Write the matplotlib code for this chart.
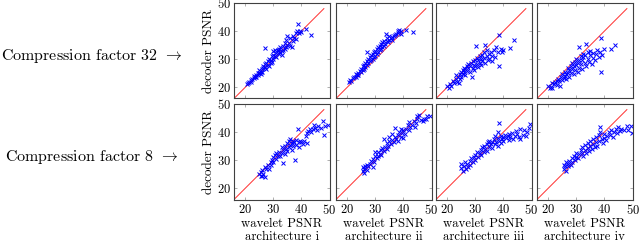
import matplotlib
matplotlib.use('Agg')
import matplotlib.pyplot as plt
import numpy as np

plt.rcParams['font.family'] = 'cmr10'
plt.rcParams['mathtext.fontset'] = 'cm'
plt.rcParams['axes.formatter.use_mathtext'] = True

# (wavelet PSNR, decoder PSNR)
cf32_arch_i = [(20.5,21.2),(21,21.5),(21.5,22),(22,21.8),(22,22.6),(22.5,23),(23,23.2),(23,24.1),(23.5,23.8),
    (24,24.5),(24,23.6),(24.5,25.2),(24.5,24.3),(25,25),(25,26.1),(25.5,25.6),(25.5,24.8),(26,26.4),(26,25.5),
    (26.5,26.8),(26.5,27.6),(27,27.2),(27,28.3),(27.2,33.9),(27.5,26.6),(27.5,28.8),(28,28),(28,29.3),(28.5,27.4),
    (28.5,30.1),(29,28.6),(29,29.8),(29.5,31),(29.5,28.9),(30,30.2),(30,31.6),(30,32.9),(30.5,31.2),(30.5,33.4),
    (31,32.1),(31,30.6),(31.5,32.8),(31.5,33.2),(32,31.8),(32,33.6),(32.5,32.4),(32.5,34.2),(33,33),(33,31.5),
    (33.5,34.6),(33.5,33.2),(34,35.6),(34,33.8),(34.5,36.8),(34.5,34.4),(35,35),(35,38.2),(35.5,35.8),(36,37.4),
    (36,34.6),(36.5,34.5),(37,36.6),(37,38.2),(37.5,37.6),(38,39.4),(38,37.2),(38.5,40.2),(38.7,42.5),(39,39.4),
    (39.5,40),(40,39.6),(41.5,40.6),(43.5,38.5)]

cf32_arch_ii = [(20.6,21.8),(21,22.6),(21.5,22.2),(22,23.2),(22.5,23.8),(23,23.5),(23,24.6),(23.5,24.2),(24,25.1),
    (24,24.4),(24.5,25.8),(25,25.3),(25,26.6),(25.5,26.1),(25.5,27.5),(26,26.6),(26,27.9),(26.5,27.2),(26.5,28.6),
    (27,28),(27,29.4),(27.2,32.7),(27.5,28.6),(27.5,30.1),(28,29.2),(28,30.6),(28.5,29.8),(28.5,31.4),(29,30.2),
    (29,31.9),(29.5,30.8),(29.5,32.4),(30,31.3),(30,33),(30.5,32),(30.5,33.6),(31,32.5),(31,34.2),(31.5,33.2),
    (31.5,34.8),(32,33.6),(32,35.3),(32.5,34.2),(32.5,36),(33,34.8),(33,36.6),(33.5,35.4),(33.8,38.9),(34,36.4),
    (34,37.6),(34.5,36.2),(35,37),(35,38.2),(35.5,37.4),(36,37.8),(36,36.8),(36.5,38.2),(37,38.6),(37.5,39),
    (38,39.9),(38,39.2),(38.5,40.3),(39.2,40.2),(39,39),(41,40.5),(43.4,39.6)]

cf32_arch_iii = [(20,20.4),(20.5,19.7),(21,21.2),(21.5,20.6),(22,22.1),(22.5,21.4),(23,22.8),(23,24.4),(23.5,22),
    (24,23.6),(24.1,21.4),(24.5,24.8),(24.5,22.9),(25,25.4),(25,23.8),(25.5,24.6),(25.5,26.2),(26,25.4),(26,27),
    (26.5,24.2),(26.5,26.6),(27,27.4),(27,25.8),(27.5,26.8),(27.5,28.2),(28,27.4),(28,25.6),(28.5,28.6),(28.9,23.8),
    (29,27),(29,29.2),(29.5,28),(29.5,26.2),(30,29.6),(30,27.6),(30.4,34.8),(30.5,28.4),(30.5,30.4),(31,27.2),
    (31,29.8),(31.5,28.6),(31.5,31.2),(32,30),(32,27.8),(32.5,31.6),(32.5,29.2),(33,30.4),(33,32.6),(33.4,35.1),
    (33.5,28.8),(34,31.2),(34,33.4),(34.5,29.8),(35,31.8),(35,30.2),(35.5,32.6),(36,29.4),(36,31),(36.5,33.2),
    (37,30.6),(37.5,34.2),(38,32.6),(38.6,27.4),(38.6,38.5),(39,33.8),(39.5,32.4),(40,33.2),(42.2,33.9),(43.6,36.9)]

cf32_arch_iv = [(20,20.6),(20.5,19.6),(21,20.2),(21.2,19.6),(21.5,21.4),(22,21),(22.5,21.8),(23,22.4),(23,20.8),
    (23.5,23),(24,22.2),(24.2,20.5),(24.5,23.6),(25,22.6),(25,24.8),(25.5,23.2),(26,24),(26,25.6),(26.5,22.8),
    (26.5,24.6),(27,25.2),(27,26.8),(27.5,23.8),(27.5,26),(28,27.4),(28,25),(28.5,26.4),(28.5,28.6),(29,24.6),
    (29,27.4),(29.5,29),(29.5,26),(30,27.8),(30,30.2),(30.5,25.4),(30.5,28.6),(30.8,34.5),(31,27),(31,29.8),
    (31.5,31),(31.5,28.2),(32,26.6),(32,29.6),(32.5,30.6),(32.5,32),(33,28.6),(33,31.4),(33.4,35.5),(33.5,27.4),
    (34,30.2),(34,32.4),(34.5,29),(35,31.4),(35,33),(35.5,28.4),(36,30.4),(36,32.2),(36.5,29.6),(37,31.8),
    (37.5,33.4),(38,30.8),(38.7,37.7),(38.7,25.4),(38.5,32.6),(39,31.6),(40,33.6),(42.4,33.7),(43.6,35.1)]

cf8_arch_i = [(25,25),(25.5,24.4),(25.5,25.8),(26,24.2),(26,26.4),(26.5,25.2),(27,27.6),(27,24.1),(27.5,26.8),
    (28,28.2),(28.5,27),(29,29.2),(29,28.2),(29.5,30),(30,29.4),(30,31),(30.5,31.8),(31,30.4),(31,32.4),
    (31.5,31.6),(32,33),(32.5,31.4),(33,34.6),(33,32.4),(33.5,28.9),(33.5,33.6),(34,35.2),(34,32.2),(34.5,34),
    (35,36),(35,33.4),(35.5,34.8),(35.5,36.8),(36,35.4),(36,37.4),(36.5,33.6),(36.5,36.2),(37,37),(37,35),
    (37.6,30),(37.5,36.4),(38,37.2),(38,35.4),(38.7,41.2),(39,36.6),(39,34.6),(39.5,37),(40,36.4),(40.5,35.8),
    (41,36.8),(41.5,38.6),(42,39.6),(42,36.2),(42.5,40.4),(43,41),(43.5,40.2),(44,41.2),(44.5,42.4),(45,41.6),
    (45.5,40.8),(46,42),(47,41.4),(47.8,43.8),(48.2,38.9),(48.5,42),(49.3,42.4)]

cf8_arch_ii = [(25.5,26.2),(25.5,27.4),(26,25.4),(26,26.8),(26.5,27.8),(27,26.6),(27,28.4),(27.5,28),(28,28.8),
    (28.5,29.6),(29,27.4),(29,30.4),(29.5,29.2),(30,31.6),(30,33),(30.5,30.6),(31,32.8),(31,31.4),(31.5,32.2),
    (32,33.6),(32,32),(32.5,34.2),(33,33.2),(33,37.6),(33.5,34.8),(34,36),(34,34),(34.5,35.2),(35,36.8),
    (35,38.4),(35.5,35.6),(36,37.2),(36,39.4),(36.5,36.4),(37,38.4),(37,41.6),(37.5,37.6),(38,39),(38,36.8),
    (38.5,40.2),(39,38.4),(39,41.2),(39.5,39.6),(40,38),(40,40.6),(40.5,39.2),(41,41),(41.5,42.4),(42,40.6),
    (42,43.6),(42.5,41.8),(43,42.4),(43.7,44),(44,41.8),(44.5,43.4),(44.9,45.8),(45,44.6),(45.5,46.2),(46.1,44.2),
    (47,43.8),(47.5,44.6),(48.1,44.6),(48.5,45.6),(49.3,45.8)]

cf8_arch_iii = [(25,27.2),(25,28.6),(25.5,26),(26,28),(26.6,26.8),(26.5,29.4),(27,28.6),(27.5,27.6),(28,29.8),
    (28,28.4),(28.5,30.6),(29,29.2),(29.5,31.2),(30,30),(30,32),(30.5,33),(31,31.2),(31.5,32.4),(32,33.6),
    (32,31.8),(32.5,34.6),(33,33),(33,35.2),(33.5,34),(34,35.8),(34,33.4),(34.5,36.4),(35,34.6),(35,37),
    (35.5,35.6),(36,36.6),(36,34.2),(36.5,37.4),(37,35.6),(37,38.6),(37.5,36.6),(38,37.8),(38,35.2),(38.3,43.1),
    (38,39.9),(38.5,37),(39,38.6),(39,36.2),(39.5,37.4),(40,38.2),(40,36.8),(40.5,39),(41,37.8),(41.5,38.6),
    (42,37.2),(42,39.4),(42.5,38.2),(43,39.8),(43.5,37.6),(44,38.6),(44.5,40.4),(45,39.2),(45.5,38.4),(46,41),
    (46,37.4),(46.8,39),(47.5,40.6),(48,38.6),(48.5,40.2),(49.5,43),(49,41.4)]

cf8_arch_iv = [(25.5,28.4),(25.5,26.8),(26,27.8),(26.2,26.2),(26.5,29.2),(27,28),(27.2,28.6),(27.5,29.8),(28,28.4),
    (28.5,30.6),(28.5,29.2),(29,31.4),(29.5,30),(30,31),(30,32.6),(30.5,30.6),(31,32.2),(31.5,33.6),(32,32.4),
    (32,34.6),(32.5,31.4),(33,33.6),(33,35.4),(33.5,32.6),(34,34.4),(34,36.2),(34.5,33.2),(35,35),(35,36.8),
    (35.5,34),(36,35.6),(36,37.6),(36.5,34.6),(37,36.4),(37,38.2),(37.5,35.2),(38,36.8),(38,38.8),(38.6,41.7),
    (38.6,39.9),(39,37.4),(39.5,36),(40,38),(40,39.4),(40.5,37.2),(41,38.6),(41.5,40.2),(42,39),(42.5,40.6),
    (43,38.4),(43.5,40),(44,41.2),(44.5,39.6),(45,41.7),(45.5,40.4),(46,41.2),(47,40.6),(48,42.3),(48.5,40.8),
    (49.5,42),(49.8,39.5)]

archs = ['i', 'ii', 'iii', 'iv']
row_labels = ['Compression factor 32', 'Compression factor 8']
panels = [[cf32_arch_i, cf32_arch_ii, cf32_arch_iii, cf32_arch_iv],
          [cf8_arch_i, cf8_arch_ii, cf8_arch_iii, cf8_arch_iv]]
diag = [14, 48]
ticks = [20, 30, 40, 50]

fig = plt.figure(figsize=(6.4, 2.42), dpi=100)
W, H = 640., 242.
lefts = [234, 336, 436, 537]
tops = [3, 104]
size = 95.5

for r in range(2):
    for c in range(4):
        ax = fig.add_axes([lefts[c] / W, 1 - (tops[r] + size) / H, size / W, size / H])
        pts = np.array(panels[r][c])
        ax.plot(diag, diag, color='#ff3030', lw=0.7)
        ax.plot(pts[:, 0], pts[:, 1], 'x', color='#0000ff', ms=3, mew=0.7)
        ax.set_xlim(16, 50)
        ax.set_ylim(16, 50)
        ax.set_xticks(ticks)
        ax.set_yticks(ticks)
        ax.tick_params(direction='in', top=True, right=True, length=2.5, width=0.5,
                       color='#909090', labelsize=9, pad=2.5)
        for s in ax.spines.values():
            s.set_color('#404040')
            s.set_linewidth(0.8)
        if c == 0:
            ax.set_ylabel('decoder PSNR', fontsize=9.5, labelpad=1)
        else:
            ax.set_yticklabels([])
        if r == 1:
            ax.set_xlabel('wavelet PSNR', fontsize=9.2, labelpad=0.5)
            fig.text((lefts[c] + size / 2) / W, 1 - 237 / H, 'architecture ' + archs[c],
                     ha='center', va='center', fontsize=9.2)
        else:
            ax.set_xticklabels([])

for r in range(2):
    y = 1 - (tops[r] + size * 0.55) / H
    fig.text(92 / W, y, row_labels[r] + r' $\rightarrow$', ha='center', va='center', fontsize=11.5)

fig.savefig('out.png', dpi=100)
